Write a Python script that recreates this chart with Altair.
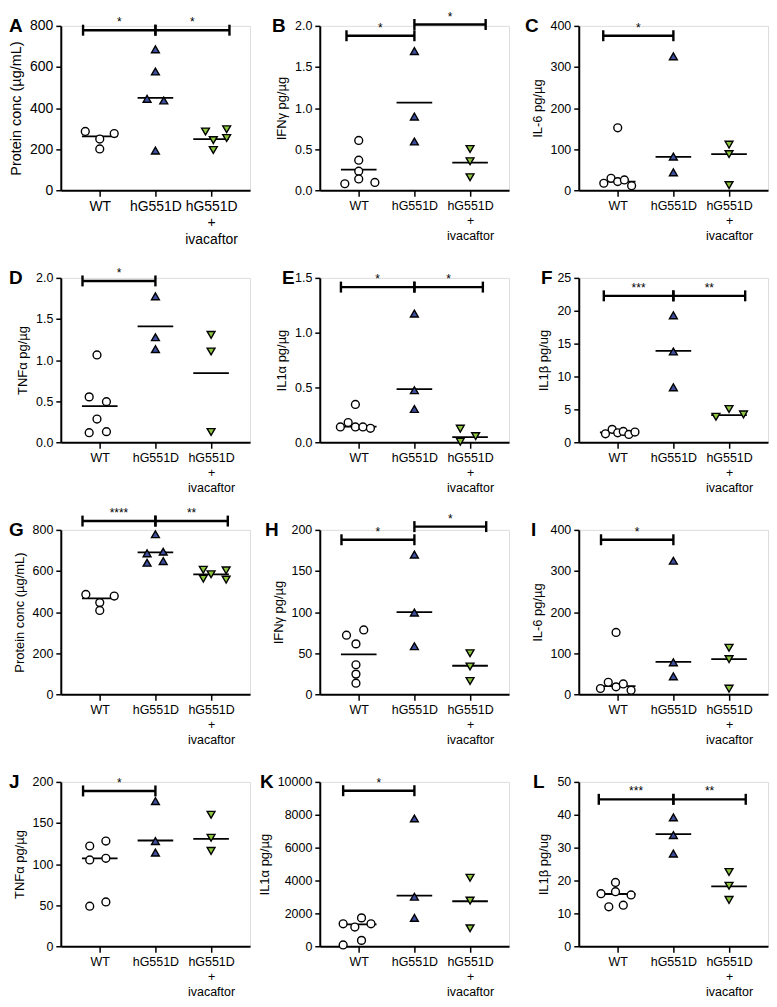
import altair as alt
import pandas as pd

FONT = "Liberation Sans"
BLUE = "#3F4FA0"
GREEN = "#8DC63F"

GROUP_NAMES = ["WT", "hG551D", "hG551D|+|ivacaftor"]

# ---------------- data ----------------
# each group: values and horizontal scatter offsets (in category units)
A_WT = [286, 249, 201, 276]
A_WT_DX = [-0.26, 0.0, 0.0, 0.26]
A_HG = [686, 578, 445, 437, 193]
A_HG_DX = [0.0, 0.0, -0.15, 0.15, 0.0]
A_IV = [286, 244, 196, 297, 254]
A_IV_DX = [-0.1, 0.04, 0.04, 0.28, 0.28]
A_LINE = [262, 450, 249]
A_BR = [(-0.30, 1.0, 779, "*"), (1.0, 2.33, 779, "*")]

B_WT = [0.606, 0.365, 0.232, 0.079, 0.137, 0.095]
B_WT_DX = [0.0, 0.0, 0.0, -0.25, 0.0, 0.29]
B_HG = [1.693, 0.896, 0.593]
B_HG_DX = [0.0, 0.0, 0.0]
B_IV = [0.502, 0.353, 0.158]
B_IV_DX = [0.0, 0.0, 0.0]
B_LINE = [0.252, 1.065, 0.335]
B_BR = [(-0.22, 1.0, 1.88, "*"), (1.0, 2.28, 2.017, "*")]

C_WT = [152, 17, 29, 21, 25, 11]
C_WT_DX = [0.0, -0.25, -0.12, 0.0, 0.12, 0.25]
C_HG = [326, 82, 43.5]
C_HG_DX = [0.0, 0.0, 0.0]
C_IV = [111, 88, 12.5]
C_IV_DX = [0.0, 0.0, 0.0]
C_LINE = [21, 81, 88]
C_BR = [(-0.26, 1.0, 376, "*")]

D_WT = [1.062, 0.552, 0.494, 0.282, 0.116, 0.129]
D_WT_DX = [-0.05, -0.19, 0.12, -0.05, -0.19, 0.12]
D_HG = [1.776, 1.278, 1.133]
D_HG_DX = [0.0, 0.0, 0.0]
D_IV = [1.307, 1.104, 0.124]
D_IV_DX = [0.0, 0.0, 0.0]
D_LINE = [0.44, 1.41, 0.842]
D_BR = [(-0.31, 1.0, 1.963, "*")]

E_WT = [0.345, 0.18, 0.14, 0.14, 0.14, 0.127]
E_WT_DX = [-0.06, -0.19, -0.33, -0.06, 0.075, 0.21]
E_HG = [1.174, 0.475, 0.304]
E_HG_DX = [0.0, 0.0, 0.0]
E_IV = [0.124, 0.005, 0.056]
E_IV_DX = [-0.175, -0.175, 0.1]
E_LINE = [0.143, 0.484, 0.047]
E_BR = [(-0.32, 1.0, 1.416, "*"), (1.0, 2.23, 1.416, "*")]

F_WT = [1.29, 1.96, 1.44, 1.65, 1.19, 1.55]
F_WT_DX = [-0.22, -0.1, 0.0, 0.1, 0.2, 0.31]
F_HG = [19.3, 13.8, 8.35]
F_HG_DX = [0.0, 0.0, 0.0]
F_IV = [3.87, 5.05, 4.23]
F_IV_DX = [-0.235, 0.0, 0.26]
F_LINE = [1.5, 13.9, 4.12]
F_BR = [(-0.25, 1.0, 22.27, "***"), (1.0, 2.29, 22.27, "**")]

G_WT = [486, 446, 408, 478]
G_WT_DX = [-0.25, 0.0, 0.0, 0.26]
G_HG = [779, 686, 640, 694, 648]
G_HG_DX = [0.0, -0.15, -0.15, 0.14, 0.14]
G_IV = [606, 563, 584, 603, 558]
G_IV_DX = [-0.14, -0.14, 0.0, 0.27, 0.27]
G_LINE = [467, 691, 584]
G_BR = [(-0.31, 1.0, 843, "****"), (1.0, 2.3, 843, "**")]

H_WT = [71.9, 78.2, 61.3, 35.9, 24.5, 13.5]
H_WT_DX = [-0.22, 0.09, -0.05, -0.05, -0.05, -0.05]
H_HG = [170, 99.4, 58.4]
H_HG_DX = [0.0, 0.0, 0.0]
H_IV = [49.9, 33.8, 16.1]
H_IV_DX = [0.0, 0.0, 0.0]
H_LINE = [48.6, 100, 34.7]
H_BR = [(-0.31, 1.0, 188, "*"), (1.0, 2.29, 204, "*")]

I_WT = [150.5, 14, 29, 18, 25, 9.5]
I_WT_DX = [-0.03, -0.31, -0.17, -0.03, 0.1, 0.24]
I_HG = [325, 77.6, 43.6]
I_HG_DX = [0.0, 0.0, 0.0]
I_IV = [113, 85.5, 13.5]
I_IV_DX = [0.0, 0.0, 0.0]
I_LINE = [20, 79, 85.5]
I_BR = [(-0.3, 1.0, 376, "*")]

J_WT = [122, 128, 105, 107, 48.7, 53.9]
J_WT_DX = [-0.18, 0.11, -0.18, 0.11, -0.18, 0.11]
J_HG = [176.6, 128, 114]
J_HG_DX = [0.0, 0.0, 0.0]
J_IV = [160, 132, 116]
J_IV_DX = [0.0, 0.0, 0.0]
J_LINE = [107, 128.7, 130.7]
J_BR = [(-0.3, 1.0, 189, "*")]

K_WT = [1369, 1726, 1171, 1369, 80, 357]
K_WT_DX = [-0.28, 0.05, -0.07, 0.22, -0.28, 0.05]
K_HG = [7778, 3016, 1726]
K_HG_DX = [0.0, 0.0, 0.0]
K_IV = [4167, 2778, 1091]
K_IV_DX = [0.0, 0.0, 0.0]
K_LINE = [1329, 3075, 2738]
K_BR = [(-0.28, 1.0, 9464, "*")]

L_WT = [19.4, 16, 16.6, 15.6, 12, 12.5]
L_WT_DX = [-0.04, -0.3, -0.04, 0.24, -0.16, 0.1]
L_HG = [39.2, 33.8, 28.2]
L_HG_DX = [0.0, 0.0, 0.0]
L_IV = [22.6, 18.4, 14.1]
L_IV_DX = [0.0, 0.0, 0.0]
L_LINE = [15.9, 34.1, 18.2]
L_BR = [(-0.34, 1.0, 44.7, "***"), (1.0, 2.3, 44.7, "**")]

PANELS = [
    ("A", "Protein conc (µg/mL)", 800, 200, "d",
     [(A_WT, A_WT_DX), (A_HG, A_HG_DX), (A_IV, A_IV_DX)], A_LINE, A_BR),
    ("B", "IFNγ pg/µg", 2.0, 0.5, ".1f",
     [(B_WT, B_WT_DX), (B_HG, B_HG_DX), (B_IV, B_IV_DX)], B_LINE, B_BR),
    ("C", "IL-6 pg/µg", 400, 100, "d",
     [(C_WT, C_WT_DX), (C_HG, C_HG_DX), (C_IV, C_IV_DX)], C_LINE, C_BR),
    ("D", "TNFα pg/µg", 2.0, 0.5, ".1f",
     [(D_WT, D_WT_DX), (D_HG, D_HG_DX), (D_IV, D_IV_DX)], D_LINE, D_BR),
    ("E", "IL1α pg/µg", 1.5, 0.5, ".1f",
     [(E_WT, E_WT_DX), (E_HG, E_HG_DX), (E_IV, E_IV_DX)], E_LINE, E_BR),
    ("F", "IL1β pg/ug", 25, 5, "d",
     [(F_WT, F_WT_DX), (F_HG, F_HG_DX), (F_IV, F_IV_DX)], F_LINE, F_BR),
    ("G", "Protein conc (µg/mL)", 800, 200, "d",
     [(G_WT, G_WT_DX), (G_HG, G_HG_DX), (G_IV, G_IV_DX)], G_LINE, G_BR),
    ("H", "IFNγ pg/µg", 200, 50, "d",
     [(H_WT, H_WT_DX), (H_HG, H_HG_DX), (H_IV, H_IV_DX)], H_LINE, H_BR),
    ("I", "IL-6 pg/µg", 400, 100, "d",
     [(I_WT, I_WT_DX), (I_HG, I_HG_DX), (I_IV, I_IV_DX)], I_LINE, I_BR),
    ("J", "TNFα pg/µg", 200, 50, "d",
     [(J_WT, J_WT_DX), (J_HG, J_HG_DX), (J_IV, J_IV_DX)], J_LINE, J_BR),
    ("K", "IL1α pg/µg", 10000, 2000, "d",
     [(K_WT, K_WT_DX), (K_HG, K_HG_DX), (K_IV, K_IV_DX)], K_LINE, K_BR),
    ("L", "IL1β pg/ug", 50, 10, "d",
     [(L_WT, L_WT_DX), (L_HG, L_HG_DX), (L_IV, L_IV_DX)], L_LINE, L_BR),
]

# ---------------- style ----------------
LETTER_DX = {"A": 52, "B": 48, "C": 54, "D": 52, "E": 38, "F": 38,
             "G": 52, "H": 55, "I": 48, "J": 52, "K": 60, "L": 46}
LABEL_SIZE = {"A": 14}
PANEL_W, PANEL_H = 190, 165
HALF_LINE = 0.32


def make_panel(key, ytitle, ymax, ystep, yfmt, groups, line, brackets):
    fs = LABEL_SIZE.get(key, 12.5)
    ticks = [round(i * ystep, 4) for i in range(int(round(ymax / ystep)) + 1)]
    xs = alt.Scale(domain=[-0.7, 2.7], nice=False, zero=False)
    ys = alt.Scale(domain=[0, ymax], nice=False, zero=False)
    label_expr = "split(" + str(GROUP_NAMES) + "[datum.value], '|')"

    xaxis = alt.Axis(values=[0, 1, 2], labelExpr=label_expr, grid=False,
                     tickSize=6, tickWidth=1.5, domainWidth=2, labelPadding=3,
                     labelFontSize=fs, labelLineHeight=fs + 2.5, labelFlush=False,
                     labelOverlap=False)
    yaxis = alt.Axis(values=ticks, format=yfmt, grid=False,
                     tickSize=5, tickWidth=1.5, domainWidth=2, labelPadding=3,
                     labelFontSize=fs, titleFontSize=fs + 0.5, titleFontWeight="normal",
                     titlePadding=6, labelFlush=False, labelOverlap=False)

    def X(field):
        return alt.X(field, type="quantitative", scale=xs, axis=xaxis, title=None)

    def Y(field):
        return alt.Y(field, type="quantitative", scale=ys, axis=yaxis, title=ytitle)

    pts = pd.DataFrame([{"g": g, "x": g + d, "y": v}
                        for g, (vals, dxs) in enumerate(groups)
                        for v, d in zip(vals, dxs)])
    lines = pd.DataFrame({"g": [0, 1, 2], "y": line})
    br = pd.DataFrame(brackets, columns=["x1", "x2", "y", "label"])
    caps = pd.DataFrame([{"x": b[0], "y": b[2]} for b in brackets] +
                        [{"x": b[1], "y": b[2]} for b in brackets])
    letter = pd.DataFrame({"t": [key], "x": [-0.7], "y": [ymax]})

    med = alt.Chart(lines).transform_calculate(
        xa=f"datum.g - {HALF_LINE}", xb=f"datum.g + {HALF_LINE}"
    ).mark_rule(color="black", strokeWidth=1.8).encode(
        x=X("xa"), x2="xb:Q", y=Y("y"),
    )
    bar = alt.Chart(br).mark_rule(color="black", strokeWidth=2.4).encode(
        x=X("x1"), x2="x2:Q", y=Y("y"),
    )
    cap = alt.Chart(caps).mark_tick(orient="vertical", size=11, thickness=2.4,
                                    color="black", opacity=1).encode(
        x=X("x"), y=Y("y"),
    )
    stars = alt.Chart(br).transform_calculate(
        xm="(datum.x1 + datum.x2) / 2"
    ).mark_text(fontSize=12, baseline="alphabetic", dy=-4, color="black", font=FONT).encode(
        x=X("xm"), y=Y("y"), text="label:N",
    )
    points = alt.Chart(pts).mark_point(filled=True, size=62, stroke="black",
                                       strokeWidth=1.4, opacity=1).encode(
        x=X("x"), y=Y("y"),
        shape=alt.Shape("g:N", scale=alt.Scale(domain=[0, 1, 2],
                        range=["circle", "triangle-up", "triangle-down"]), legend=None),
        fill=alt.Fill("g:N", scale=alt.Scale(domain=[0, 1, 2],
                      range=["white", BLUE, GREEN]), legend=None),
    )
    lab = alt.Chart(letter).mark_text(fontSize=19, fontWeight="bold", align="left",
                                      baseline="middle", dx=-LETTER_DX[key],
                                      color="black", font=FONT).encode(
        x=X("x"), y=Y("y"), text="t:N",
    )
    return alt.layer(med, bar, cap, stars, points, lab).properties(
        width=PANEL_W, height=PANEL_H)


panels = [make_panel(*p) for p in PANELS]

chart = alt.concat(
    *panels, columns=3, spacing={"row": 88, "column": 70}, bounds="flush"
).properties(padding=0).configure_view(strokeWidth=0, stroke="transparent").configure(
    font=FONT
).configure_axis(
    labelFont=FONT, titleFont=FONT, labelColor="black", titleColor="black",
    domainColor="black", tickColor="black"
)

chart.save("out.html", embed_options={"renderer": "svg", "actions": False})
